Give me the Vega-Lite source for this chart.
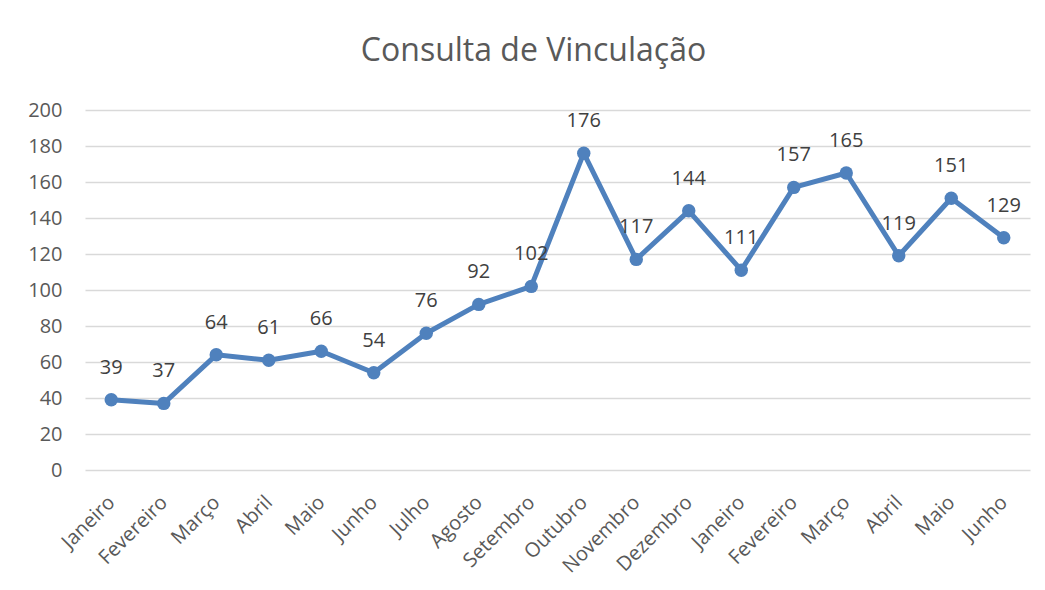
{
  "$schema": "https://vega.github.io/schema/vega-lite/v6.json",
  "autosize": "none",
  "width": 945,
  "height": 360,
  "padding": {"left": 85, "top": 110, "right": 15, "bottom": 120},
  "background": "white",
  "config": {
    "font": "Open Sans",
    "view": {"stroke": null}
  },
  "title": {
    "text": "Consulta de Vinculação",
    "fontSize": 32,
    "font": "Open Sans",
    "fontWeight": "normal",
    "color": "#595959",
    "anchor": "middle",
    "frame": "group",
    "baseline": "alphabetic",
    "dx": -24,
    "offset": 7
  },
  "data": {
    "values": [
      {"mes": "Janeiro-1", "valor": 39},
      {"mes": "Fevereiro-1", "valor": 37},
      {"mes": "Março-1", "valor": 64},
      {"mes": "Abril-1", "valor": 61},
      {"mes": "Maio-1", "valor": 66},
      {"mes": "Junho-1", "valor": 54},
      {"mes": "Julho-1", "valor": 76},
      {"mes": "Agosto-1", "valor": 92},
      {"mes": "Setembro-1", "valor": 102},
      {"mes": "Outubro-1", "valor": 176},
      {"mes": "Novembro-1", "valor": 117},
      {"mes": "Dezembro-1", "valor": 144},
      {"mes": "Janeiro-2", "valor": 111},
      {"mes": "Fevereiro-2", "valor": 157},
      {"mes": "Março-2", "valor": 165},
      {"mes": "Abril-2", "valor": 119},
      {"mes": "Maio-2", "valor": 151},
      {"mes": "Junho-2", "valor": 129}
    ]
  },
  "encoding": {
    "x": {
      "field": "mes",
      "type": "ordinal",
      "sort": null,
      "scale": {"paddingInner": 0, "paddingOuter": 0.5},
      "axis": {
        "title": null,
        "labelAngle": -45,
        "labelAlign": "right",
        "labelBaseline": "middle",
        "labelFontSize": 20,
        "labelColor": "#595959",
        "labelPadding": 29,
        "ticks": false,
        "domain": false,
        "grid": false,
        "labelExpr": "split(datum.value, '-')[0]"
      }
    },
    "y": {
      "field": "valor",
      "type": "quantitative",
      "scale": {"domain": [0, 200]},
      "axis": {
        "title": null,
        "values": [0, 20, 40, 60, 80, 100, 120, 140, 160, 180, 200],
        "labelFontSize": 20,
        "labelColor": "#595959",
        "labelPadding": 23,
        "ticks": false,
        "domain": false,
        "gridColor": "#D9D9D9",
        "gridWidth": 1.5
      }
    }
  },
  "layer": [
    {
      "mark": {"type": "line", "color": "#4F81BD", "strokeWidth": 5, "strokeJoin": "round", "strokeCap": "round"}
    },
    {
      "mark": {"type": "point", "filled": true, "opacity": 1, "color": "#4F81BD", "size": 180}
    },
    {
      "mark": {"type": "text", "fontSize": 20, "color": "#404040", "baseline": "middle", "dy": -32},
      "encoding": {"text": {"field": "valor", "type": "quantitative"}}
    }
  ]
}
